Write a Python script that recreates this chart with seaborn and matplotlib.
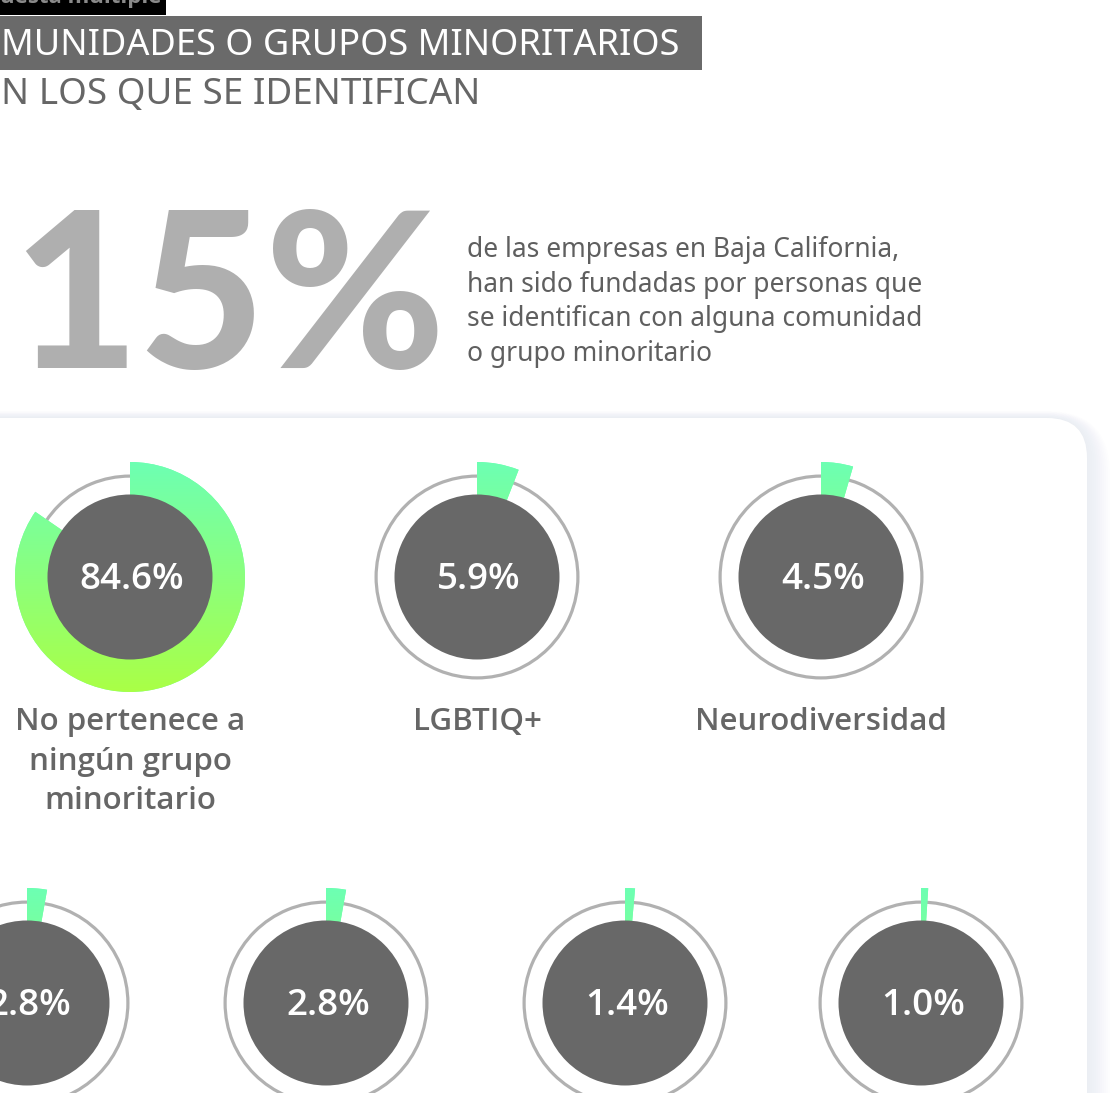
import numpy as np
import matplotlib
matplotlib.use('Agg')
import matplotlib.pyplot as plt
import seaborn as sns
from matplotlib.patches import FancyBboxPatch, Rectangle
from matplotlib.colors import LinearSegmentedColormap

W, H = 1113, 1093

sns.set_theme(style='white')
plt.rcParams['font.family'] = ['Noto Sans', 'DejaVu Sans']
BOLD_FONT = ['Open Sans', 'DejaVu Sans']

# data read from the infographic
categories = ['No pertenece a\nningún grupo\nminoritario', 'LGBTIQ+', 'Neurodiversidad',
              '', '', '', '']
values = [84.6, 5.9, 4.5, 2.8, 2.8, 1.4, 1.0]
headline_value = '15%'
headline_text = ['de las empresas en Baja California,',
                 'han sido fundadas por personas que',
                 'se identifican con alguna comunidad',
                 'o grupo minoritario']
title_lines = ['MUNIDADES O GRUPOS MINORITARIOS', 'N LOS QUE SE IDENTIFICAN']
tag_text = 'uesta múltiple'

# layout (pixels)
centers = [(130, 577), (477, 577), (821, 577),
           (27, 1003), (326, 1003), (625, 1003), (921, 1003)]
R_BOX = 120
R_GREEN = 115
R_RING = 102.5
R_INNER = 82.5

DARK = '#686868'
RING = '#b1b1b1'
TXT = '#666666'
green_cmap = LinearSegmentedColormap.from_list('g', ['#6dffb3', '#aaff46'])

fig = plt.figure(figsize=(W / 100, H / 100), dpi=100)
fig.patch.set_facecolor('white')
ax = fig.add_axes([0, 0, 1, 1])
ax.set_xlim(0, W)
ax.set_ylim(H, 0)
ax.axis('off')

# card with soft shadow
for i in range(12):
    pad = 1 + i * 2.0
    ax.add_patch(FancyBboxPatch((-200 - pad * 0.3, 418 - pad * 0.3), 1287 + pad * 1.3, 900,
                                boxstyle=f'round,pad=0,rounding_size={40 + pad}',
                                fc='#9aa0b0', ec='none', alpha=0.010, zorder=0))
ax.add_patch(FancyBboxPatch((-200, 418), 1287, 900,
                            boxstyle='round,pad=0,rounding_size=40',
                            fc='white', ec='none', zorder=1))

# header
ax.add_patch(Rectangle((0, -5), 166, 20, fc='black', ec='none', zorder=2))
ax.text(0, -2, tag_text, color='#8a8a8a', fontsize=16, fontweight='bold',
        family=BOLD_FONT, va='center', ha='left', zorder=3)
ax.add_patch(Rectangle((0, 16), 702, 54, fc='#6a6a6a', ec='none', zorder=2))
ax.text(1, 46, title_lines[0], color='white', fontsize=26, va='center', ha='left', zorder=3)
ax.text(1, 95, title_lines[1], color=TXT, fontsize=26.5, va='center', ha='left', zorder=3)

# headline number and text
ax.text(12, 305, headline_value, color='#afafaf', fontsize=157, fontweight='black',
        family=['Lato', 'DejaVu Sans'], va='center', ha='left', zorder=3)
for i, line in enumerate(headline_text):
    ax.text(467, 250 + i * 34.7, line, color='#5f5f5f', fontsize=19,
            va='center', ha='left', zorder=3)

# donuts
for (cx, cy), val, lab in zip(centers, values, categories):
    dax = fig.add_axes([(cx - R_BOX) / W, 1 - (cy + R_BOX) / H, 2 * R_BOX / W, 2 * R_BOX / H])
    dax.set_facecolor('none')
    dax.pie([100], radius=R_RING, colors=['none'], startangle=90,
            wedgeprops=dict(width=3.2, fc=RING, ec='none'))
    wedges, _ = dax.pie([val, 100 - val], radius=R_GREEN, startangle=90, counterclock=False,
                        colors=['#6dffb3', 'none'],
                        wedgeprops=dict(width=R_GREEN - R_INNER + 1, ec='none'))
    grad = np.linspace(0, 1, 256).reshape(-1, 1)
    im = dax.imshow(grad, extent=(-R_GREEN, R_GREEN, -R_GREEN, R_GREEN), origin='upper',
                    cmap=green_cmap, aspect='auto', zorder=2)
    im.set_clip_path(wedges[0])
    dax.pie([100], radius=R_INNER, colors=[DARK], wedgeprops=dict(ec='none', zorder=3))
    dax.text(2, -3, f'{val:.1f}%', color='white', fontsize=26.5, fontweight='semibold',
             family=BOLD_FONT, ha='center', va='center', zorder=5)
    dax.set_xlim(-R_BOX, R_BOX)
    dax.set_ylim(-R_BOX, R_BOX)
    dax.set_aspect('equal')
    dax.axis('off')
    if lab:
        ax.text(cx, 707, lab, color=TXT, fontsize=22.5, fontweight='semibold',
                family=BOLD_FONT, ha='center', va='top', linespacing=1.42, zorder=3)

fig.savefig('out.png', dpi=100)
